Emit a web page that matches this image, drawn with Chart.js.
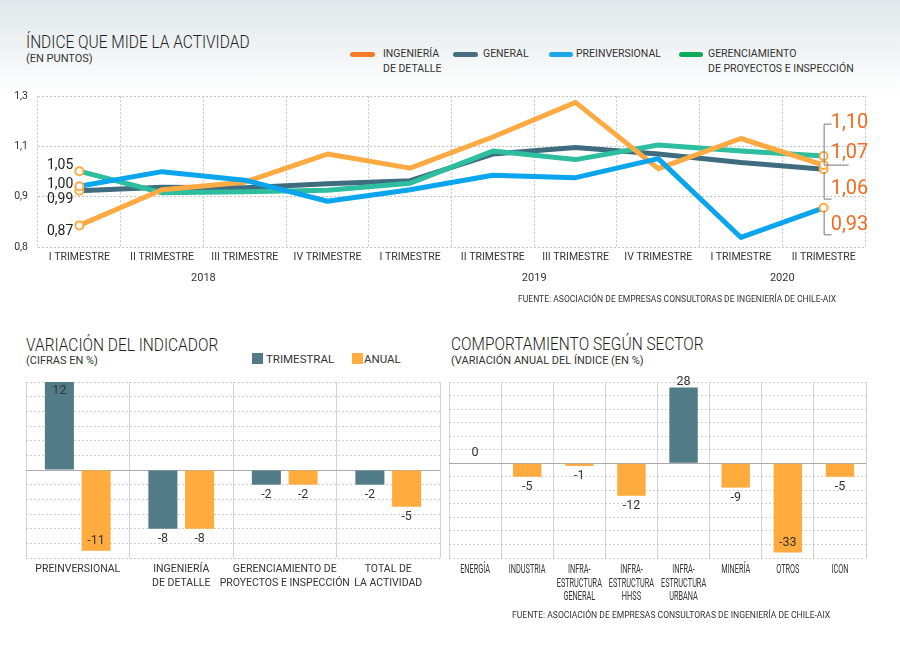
<!DOCTYPE html>
<html>
<head>
<meta charset="utf-8">
<script src="https://cdn.jsdelivr.net/npm/chart.js@4.4.1/dist/chart.umd.min.js"></script>
<style>
  body { margin:0; width:900px; height:649px; position:relative; overflow:hidden;
         font-family:Roboto, sans-serif; color:#333;
         background:linear-gradient(#e1e7ea 0px, #eef2f3 45px, #fff 92px, #fff 100%); }
  .abs { position:absolute; white-space:nowrap; line-height:1; }
  .title { font-size:18px; font-weight:300; color:#1e1e1e; transform:scaleX(0.86); transform-origin:0 0; }
  .sub { font-size:11px; color:#333; }
  .leg { font-size:10.5px; line-height:14.5px; color:#333; }
  .sw { position:absolute; height:5px; border-radius:3px; }
  .sq { position:absolute; width:11px; height:11px; }
  .src { font-size:9px; color:#333; transform:scaleX(0.95); transform-origin:0 0; }
  .box { position:absolute; }
</style>
</head>
<body>
<div class="abs title" style="left:26px;top:33px">ÍNDICE QUE MIDE LA ACTIVIDAD</div>
<div class="abs sub" style="left:26px;top:53px">(EN PUNTOS)</div>

<div class="sw" style="left:350px;top:52px;width:25px;background:#f47b2b"></div>
<div class="abs leg" style="left:383px;top:47px">INGENIERÍA<br>DE DETALLE</div>
<div class="sw" style="left:453px;top:52px;width:25px;background:#46707f"></div>
<div class="abs leg" style="left:483px;top:47px">GENERAL</div>
<div class="sw" style="left:549px;top:52px;width:24px;background:#1da9e9"></div>
<div class="abs leg" style="left:576px;top:47px">PREINVERSIONAL</div>
<div class="sw" style="left:679px;top:52px;width:24px;background:#0daa58"></div>
<div class="abs leg" style="left:708px;top:47px">GERENCIAMIENTO<br>DE PROYECTOS E INSPECCIÓN</div>

<div class="box" style="left:0;top:80px;width:900px;height:215px"><canvas id="lineChart"></canvas></div>
<div class="abs src" style="left:518px;top:295px">FUENTE: ASOCIACIÓN DE EMPRESAS CONSULTORAS DE INGENIERÍA DE CHILE-AIX</div>

<div class="abs title" style="left:26px;top:336px">VARIACIÓN DEL INDICADOR</div>
<div class="abs sub" style="left:26px;top:355px">(CIFRAS EN %)</div>
<div class="sq" style="left:252px;top:353px;background:#527b88"></div>
<div class="abs leg" style="left:266px;top:352px;font-size:11.5px">TRIMESTRAL</div>
<div class="sq" style="left:352px;top:353px;background:#ffab3d"></div>
<div class="abs leg" style="left:364px;top:352px;font-size:11.5px">ANUAL</div>

<div class="abs title" style="left:451px;top:335px">COMPORTAMIENTO SEGÚN SECTOR</div>
<div class="abs sub" style="left:451px;top:355px">(VARIACIÓN ANUAL DEL ÍNDICE (EN %)</div>

<div class="box" style="left:0;top:375px;width:460px;height:235px"><canvas id="varChart"></canvas></div>
<div class="box" style="left:440px;top:375px;width:460px;height:235px"><canvas id="sectorChart"></canvas></div>
<div class="abs src" style="left:512px;top:611px">FUENTE: ASOCIACIÓN DE EMPRESAS CONSULTORAS DE INGENIERÍA DE CHILE-AIX</div>

<script>
// ---- top chart data (values are on the drawn axis: 0 = "0,8" line, 1 = "0,9", 2 = "1,1", 3 = "1,3")
const quarters = ['I TRIMESTRE','II TRIMESTRE','III TRIMESTRE','IV TRIMESTRE',
                  'I TRIMESTRE','II TRIMESTRE','III TRIMESTRE','IV TRIMESTRE',
                  'I TRIMESTRE','II TRIMESTRE'];
const years = ['2018','2019','2020'];
const yearFirst = [0,4,8];
const yearLast = [3,7,9];
const yTickLabels = ['0,8','0,9','1,1','1,3'];

const ingenieria     = [0.43,1.14,1.29,1.85,1.57,2.19,2.88,1.56,2.16,1.63];
const general        = [1.12,1.19,1.18,1.26,1.32,1.85,1.98,1.85,1.68,1.55];
const preinversional = [1.21,1.50,1.33,0.91,1.14,1.43,1.38,1.76,0.19,0.78];
const gerenciamiento = [1.51,1.08,1.10,1.13,1.27,1.91,1.74,2.03,1.91,1.81];

const startLabels = ['0,87','0,99','1,00','1,05'];
const endLabels   = ['1,10','1,06','0,93','1,07'];

// ---- bottom left
const varCats = [['PREINVERSIONAL'],['INGENIERÍA','DE DETALLE'],
                 ['GERENCIAMIENTO DE','PROYECTOS E INSPECCIÓN'],['TOTAL DE','LA ACTIVIDAD']];
const trimestral = [12,-8,-2,-2];
const anual = [-11,-8,-2,-5];

// ---- bottom right
const sectores = [['ENERGÍA'],['INDUSTRIA'],['INFRA-','ESTRUCTURA','GENERAL'],
                  ['INFRA-','ESTRUCTURA','HHSS'],['INFRA-','ESTRUCTURA','URBANA'],
                  ['MINERÍA'],['OTROS'],['ICON']];
const variacionSector = [0,-5,-1,-12,28,-9,-33,-5];

const TEAL = '#527b88', ORANGE = '#ffab3d';
Chart.defaults.font.family = 'Roboto, sans-serif';
Chart.defaults.color = '#333';

// label shifts (px) for the start / end value texts
const startShift = [6, 9, -2, -6];
const endShift = [-42, 20, 17, -3];

const lineLabels = {
  id: 'lineLabels',
  afterDatasetsDraw(chart) {
    const ctx = chart.ctx;
    ctx.save();
    chart.data.datasets.forEach((ds, i) => {
      const pts = chart.getDatasetMeta(i).data;
      const first = pts[0], last = pts[pts.length - 1];
      ctx.textBaseline = 'middle';
      ctx.font = '14px Roboto';
      ctx.fillStyle = '#222';
      ctx.textAlign = 'right';
      ctx.fillText(startLabels[i], first.x - 6, first.y + startShift[i]);

      const ly = last.y + endShift[i];
      ctx.font = '20px Roboto';
      ctx.fillStyle = '#f26b21';
      ctx.textAlign = 'left';
      ctx.fillText(endLabels[i], last.x + 7, ly);

      ctx.strokeStyle = '#777';
      ctx.lineWidth = 1;
      if (endShift[i] < -10) {
        ctx.beginPath();
        ctx.moveTo(last.x + 8, ly + 1); ctx.lineTo(last.x + 0.5, ly + 1);
        ctx.lineTo(last.x + 0.5, last.y); ctx.lineTo(last.x + 25, last.y);
        ctx.stroke();
      } else if (endShift[i] > 10) {
        ctx.beginPath();
        ctx.moveTo(last.x + 0.5, last.y + 3); ctx.lineTo(last.x + 0.5, ly + 10);
        ctx.lineTo(last.x + 8, ly + 10);
        ctx.stroke();
      }
    });
    // years under the quarters
    const x = chart.scales.x;
    ctx.font = '11px Roboto';
    ctx.fillStyle = '#333';
    ctx.textAlign = 'center';
    years.forEach((y, k) => {
      const cx = (x.getPixelForValue(yearFirst[k]) + x.getPixelForValue(yearLast[k])) / 2;
      ctx.fillText(y, cx, chart.chartArea.bottom + 31);
    });
    ctx.restore();
  }
};

const endPoint = (c) => (c.dataIndex === 0 || c.dataIndex === quarters.length - 1) ? 4 : 0;
function lineSet(label, data, color, order) {
  return { label, data, borderColor: color, borderWidth: 5, order,
           pointRadius: endPoint, pointBackgroundColor: '#fff',
           pointBorderColor: '#fcab45', pointBorderWidth: 2, tension: 0,
           borderCapStyle: 'round', borderJoinStyle: 'round' };
}

new Chart(document.getElementById('lineChart'), {
  type: 'line',
  data: {
    labels: quarters,
    datasets: [
      lineSet('INGENIERÍA DE DETALLE', ingenieria, '#fdaa43', 2),
      lineSet('GENERAL', general, '#3f6d7f', 4),
      lineSet('PREINVERSIONAL', preinversional, '#0aa5ec', 1),
      lineSet('GERENCIAMIENTO DE PROYECTOS E INSPECCIÓN', gerenciamiento, '#2dbe9f', 3)
    ]
  },
  options: {
    animation: false, responsive: true, maintainAspectRatio: false,
    layout: { padding: { top: 7, right: 35, left: 0, bottom: 0 } },
    plugins: { legend: { display: false }, tooltip: { enabled: false } },
    scales: {
      x: {
        offset: true,
        grid: { offset: true, color: '#c4c4c4', drawTicks: false },
        border: { display: false, dash: [2, 2] },
        ticks: { font: { size: 10.5 }, padding: 4, autoSkip: false, maxRotation: 0 },
        afterFit: s => { s.height = 48; }
      },
      y: {
        min: 0, max: 3,
        grid: { color: '#c4c4c4', drawTicks: false },
        border: { display: false, dash: [2, 2] },
        ticks: { stepSize: 1, padding: 10, font: { size: 10.5 }, callback: v => yTickLabels[v] },
        afterFit: s => { s.width = 38; }
      }
    }
  },
  plugins: [lineLabels]
});

const barLabels = {
  id: 'barLabels',
  afterDatasetsDraw(chart, args, opts) {
    const { ctx, chartArea } = chart;
    ctx.save();
    ctx.font = '12.5px Roboto';
    ctx.fillStyle = '#333';
    ctx.textAlign = 'center';
    ctx.textBaseline = 'middle';
    chart.data.datasets.forEach((ds, i) => {
      chart.getDatasetMeta(i).data.forEach((bar, j) => {
        const v = ds.data[j];
        let y;
        if (v >= 0) {
          y = bar.y - 10;
          if (y < chartArea.top) y = opts.clampTop ? chartArea.top : bar.y + 9;
        } else {
          y = bar.y + 10;
          if (y > chartArea.bottom) y = bar.y - 10;
        }
        ctx.fillText(String(v), bar.x, y);
      });
    });
    // narrow category names under the axis (right chart only)
    if (opts.narrowTicks) {
      const xs = chart.scales.x;
      ctx.font = '12px Roboto';
      ctx.fillStyle = '#333';
      chart.data.labels.forEach((lines, k) => {
        const cx = xs.getPixelForTick(k);
        lines.forEach((t, n) => {
          ctx.save();
          ctx.translate(cx, chartArea.bottom + 12 + n * 13.5);
          ctx.scale(0.61, 1);
          ctx.fillText(t, 0, 0);
          ctx.restore();
        });
      });
    }
    ctx.restore();
  }
};

function barScales(min, max, step, yWidth, labelFont, showTicks) {
  return {
    x: {
      grid: { color: '#d2d2d2', drawTicks: false },
      border: { display: false },
      ticks: { display: showTicks, font: labelFont, padding: 5, autoSkip: false, maxRotation: 0, minRotation: 0 },
      afterFit: s => { s.height = 52; }
    },
    y: {
      min, max,
      grid: { drawTicks: false, color: c => (c.tick && c.tick.value === 0) ? '#a9a9a9' : '#cdcdcd' },
      border: { display: false, dash: c => (c.tick && c.tick.value === 0) ? [] : [2, 2] },
      ticks: { display: false, stepSize: step },
      afterFit: s => { s.width = yWidth; }
    }
  };
}

new Chart(document.getElementById('varChart'), {
  type: 'bar',
  data: {
    labels: varCats,
    datasets: [
      { label: 'TRIMESTRAL', data: trimestral, backgroundColor: TEAL },
      { label: 'ANUAL', data: anual, backgroundColor: ORANGE }
    ]
  },
  options: {
    animation: false, responsive: true, maintainAspectRatio: false,
    categoryPercentage: 0.71, barPercentage: 0.79,
    layout: { padding: { top: 7, right: 20, left: 0, bottom: 0 } },
    plugins: { legend: { display: false }, tooltip: { enabled: false }, barLabels: { clampTop: false } },
    scales: barScales(-12, 12, 2, 26, { size: 10.5, lineHeight: 1.3 }, true)
  },
  plugins: [barLabels]
});

new Chart(document.getElementById('sectorChart'), {
  type: 'bar',
  data: {
    labels: sectores,
    datasets: [
      { label: 'VARIACIÓN ANUAL', data: variacionSector,
        backgroundColor: variacionSector.map(v => v > 0 ? TEAL : ORANGE) }
    ]
  },
  options: {
    animation: false, responsive: true, maintainAspectRatio: false,
    categoryPercentage: 1, barPercentage: 0.545,
    layout: { padding: { top: 7, right: 34, left: 0, bottom: 0 } },
    plugins: { legend: { display: false }, tooltip: { enabled: false }, barLabels: { clampTop: true, narrowTicks: true } },
    scales: barScales(-35, 30, 5, 9, { size: 9.5 }, false)
  },
  plugins: [barLabels]
});
</script>
</body>
</html>
